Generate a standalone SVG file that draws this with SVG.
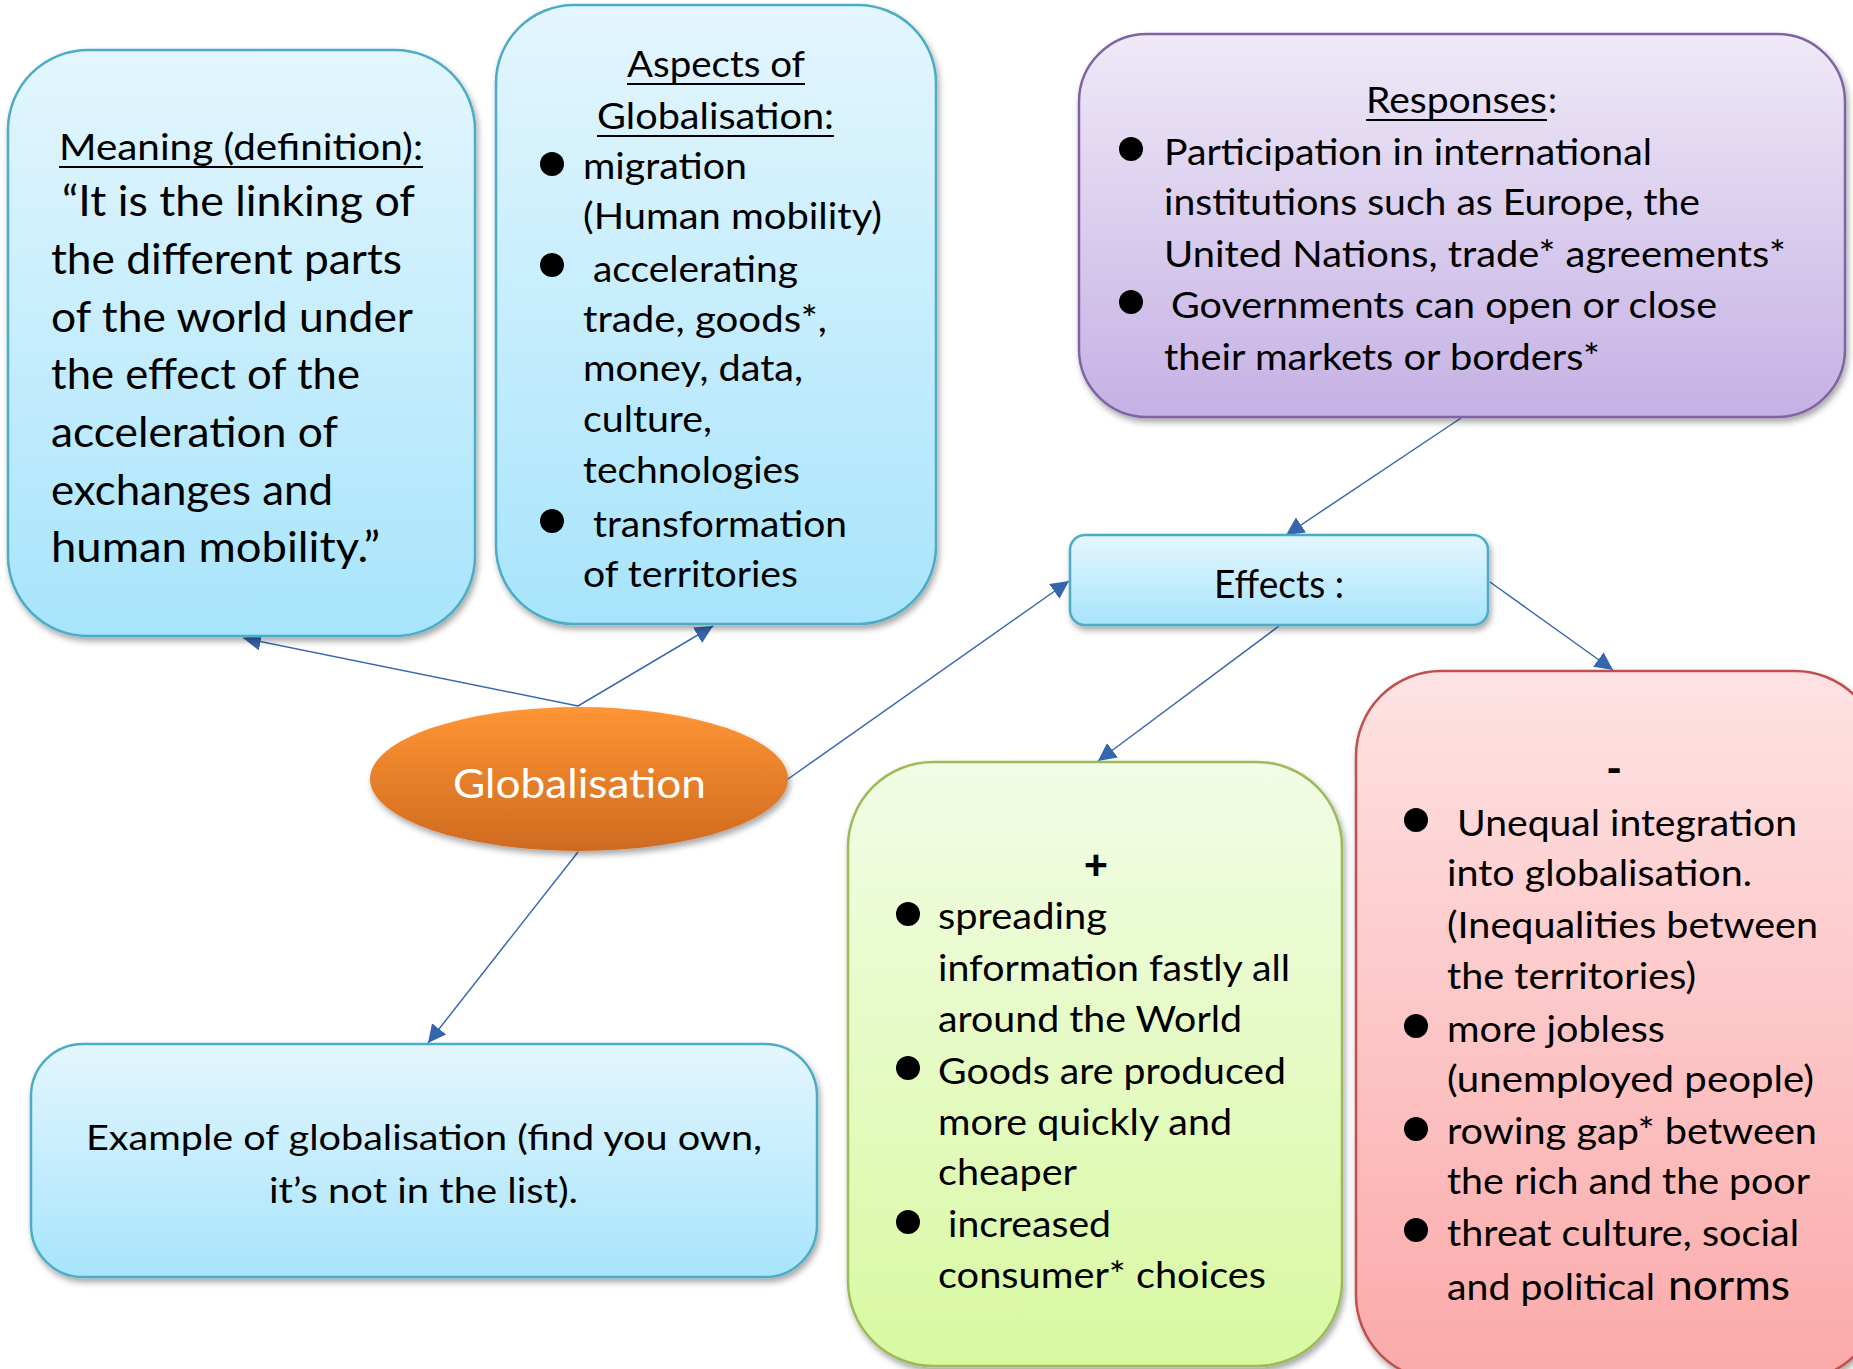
<svg xmlns="http://www.w3.org/2000/svg" width="1853" height="1369" viewBox="0 0 1853 1369">
<style>
  text { font-family: Lato, "Open Sans", "Liberation Sans", sans-serif; fill: #000; }
  .t43 { font-size: 43px; }
  .t37 { font-size: 37px; }
  .t36 { font-size: 36px; }
  .t35 { font-size: 35px; }
  .sign { font-size: 42px; font-weight: 900; }
  .conn { stroke: #3C68B0; stroke-width: 1.5; fill: none; marker-end: url(#arrow); }
  .ul { stroke: #000; stroke-width: 2.2; }
  .bul { fill: #000; }
</style>
<defs>
  <linearGradient id="gBlue" x1="0" y1="0" x2="0" y2="1">
    <stop offset="0" stop-color="#E4F6FE"/>
    <stop offset="1" stop-color="#A7E4FB"/>
  </linearGradient>
  <linearGradient id="gPurple" x1="0" y1="0" x2="0" y2="1">
    <stop offset="0" stop-color="#EFE9F7"/>
    <stop offset="1" stop-color="#C5B1E4"/>
  </linearGradient>
  <linearGradient id="gGreen" x1="0" y1="0" x2="0" y2="1">
    <stop offset="0" stop-color="#F2FCE6"/>
    <stop offset="1" stop-color="#D8F9A1"/>
  </linearGradient>
  <linearGradient id="gRed" x1="0" y1="0" x2="0" y2="1">
    <stop offset="0" stop-color="#FEE3E4"/>
    <stop offset="1" stop-color="#FBA9A9"/>
  </linearGradient>
  <linearGradient id="gOrange" x1="0" y1="0" x2="0" y2="1">
    <stop offset="0" stop-color="#FF9535"/>
    <stop offset="1" stop-color="#CF6A1F"/>
  </linearGradient>
  <filter id="shadow" x="-10%" y="-10%" width="120%" height="125%">
    <feDropShadow dx="2" dy="4" stdDeviation="3" flood-color="#000" flood-opacity="0.35"/>
  </filter>
  <marker id="arrow" markerUnits="userSpaceOnUse" markerWidth="20" markerHeight="18" refX="18" refY="9" orient="auto">
    <path d="M0,0 L18,9 L0,18 Z" fill="#3566AD"/>
  </marker>
</defs>

<g id="connectors">
  <line class="conn" x1="578" y1="706" x2="243" y2="638"/>
  <line class="conn" x1="578" y1="706" x2="713" y2="626"/>
  <line class="conn" x1="788" y1="779" x2="1069" y2="581"/>
  <line class="conn" x1="578" y1="852" x2="428" y2="1043"/>
  <line class="conn" x1="1461" y1="418" x2="1286" y2="535"/>
  <line class="conn" x1="1279" y1="626" x2="1098" y2="761"/>
  <line class="conn" x1="1490" y1="582" x2="1613" y2="670"/>
</g>

<g id="meaning">
  <rect x="8" y="50" width="467" height="586" rx="80" ry="80" fill="url(#gBlue)" stroke="#4BACC6" stroke-width="2.5" filter="url(#shadow)"/>
  <text class="t37" x="59" y="160" textLength="364" lengthAdjust="spacingAndGlyphs">Meaning (definition):</text>
  <line class="ul" x1="59" y1="167" x2="423" y2="167"/>
  <text class="t43" x="62" y="216" textLength="353" lengthAdjust="spacingAndGlyphs">“It is the linking of</text>
  <text class="t43" x="51" y="274" textLength="351" lengthAdjust="spacingAndGlyphs">the different parts</text>
  <text class="t43" x="51" y="332" textLength="362" lengthAdjust="spacingAndGlyphs">of the world under</text>
  <text class="t43" x="51" y="389" textLength="309" lengthAdjust="spacingAndGlyphs">the effect of the</text>
  <text class="t43" x="51" y="447" textLength="287" lengthAdjust="spacingAndGlyphs">acceleration of</text>
  <text class="t43" x="51" y="505" textLength="282" lengthAdjust="spacingAndGlyphs">exchanges and</text>
  <text class="t43" x="51" y="562" textLength="329" lengthAdjust="spacingAndGlyphs">human mobility.”</text>
</g>

<g id="aspects">
  <rect x="496" y="5" width="440" height="619" rx="78" ry="78" fill="url(#gBlue)" stroke="#4BACC6" stroke-width="2.5" filter="url(#shadow)"/>
  <text class="t37" x="627" y="77" textLength="178" lengthAdjust="spacingAndGlyphs">Aspects of</text>
  <line class="ul" x1="627" y1="84" x2="805" y2="84"/>
  <text class="t37" x="597" y="129" textLength="237" lengthAdjust="spacingAndGlyphs">Globalisation:</text>
  <line class="ul" x1="597" y1="136" x2="834" y2="136"/>
  <circle class="bul" cx="552" cy="164" r="12"/>
  <text class="t37" x="583" y="179" textLength="164" lengthAdjust="spacingAndGlyphs">migration</text>
  <text class="t37" x="583" y="229" textLength="299" lengthAdjust="spacingAndGlyphs">(Human mobility)</text>
  <circle class="bul" cx="552" cy="265" r="12"/>
  <text class="t37" x="593" y="282" textLength="205" lengthAdjust="spacingAndGlyphs">accelerating</text>
  <text class="t37" x="583" y="332" textLength="244" lengthAdjust="spacingAndGlyphs">trade, goods*,</text>
  <text class="t37" x="583" y="381" textLength="220" lengthAdjust="spacingAndGlyphs">money, data,</text>
  <text class="t37" x="583" y="432" textLength="129" lengthAdjust="spacingAndGlyphs">culture,</text>
  <text class="t37" x="583" y="483" textLength="217" lengthAdjust="spacingAndGlyphs">technologies</text>
  <circle class="bul" cx="552" cy="521" r="12"/>
  <text class="t37" x="593" y="537" textLength="254" lengthAdjust="spacingAndGlyphs">transformation</text>
  <text class="t37" x="583" y="587" textLength="215" lengthAdjust="spacingAndGlyphs">of territories</text>
</g>

<g id="responses">
  <rect x="1079" y="34" width="766" height="383" rx="68" ry="68" fill="url(#gPurple)" stroke="#8064A2" stroke-width="2.5" filter="url(#shadow)"/>
  <text class="t36" x="1366" y="113" textLength="181" lengthAdjust="spacingAndGlyphs">Responses</text>
  <text class="t36" x="1548" y="113">:</text>
  <line class="ul" x1="1366" y1="120" x2="1547" y2="120"/>
  <circle class="bul" cx="1131" cy="149" r="12"/>
  <text class="t36" x="1164" y="165" textLength="488" lengthAdjust="spacingAndGlyphs">Participation in international</text>
  <text class="t36" x="1164" y="215" textLength="536" lengthAdjust="spacingAndGlyphs">institutions such as Europe, the</text>
  <text class="t36" x="1164" y="267" textLength="622" lengthAdjust="spacingAndGlyphs">United Nations, trade* agreements*</text>
  <circle class="bul" cx="1131" cy="302" r="12"/>
  <text class="t36" x="1171" y="318" textLength="546" lengthAdjust="spacingAndGlyphs">Governments can open or close</text>
  <text class="t36" x="1164" y="370" textLength="436" lengthAdjust="spacingAndGlyphs">their markets or borders*</text>
</g>

<g id="effects">
  <rect x="1070" y="535" width="418" height="90" rx="15" ry="15" fill="url(#gBlue)" stroke="#4BACC6" stroke-width="2.5" filter="url(#shadow)"/>
  <text x="1214" y="598" font-size="38" textLength="130" lengthAdjust="spacingAndGlyphs">Effects :</text>
</g>

<g id="globalisation">
  <ellipse cx="579" cy="779" rx="209" ry="72" fill="url(#gOrange)" filter="url(#shadow)"/>
  <text x="453" y="798" font-size="41" style="fill:#fff" textLength="253" lengthAdjust="spacingAndGlyphs">Globalisation</text>
</g>

<g id="example">
  <rect x="31" y="1044" width="786" height="233" rx="52" ry="52" fill="url(#gBlue)" stroke="#4BACC6" stroke-width="2.5" filter="url(#shadow)"/>
  <text class="t35" x="86" y="1150" textLength="676" lengthAdjust="spacingAndGlyphs">Example of globalisation (find you own,</text>
  <text class="t35" x="269" y="1203" textLength="309" lengthAdjust="spacingAndGlyphs">it’s not in the list).</text>
</g>

<g id="positive">
  <rect x="848" y="762" width="494" height="604" rx="85" ry="85" fill="url(#gGreen)" stroke="#9BBB59" stroke-width="2.5" filter="url(#shadow)"/>
  <text class="sign" x="1096" y="879" text-anchor="middle">+</text>
  <circle class="bul" cx="908" cy="914" r="12"/>
  <text class="t37" x="938" y="929" textLength="169" lengthAdjust="spacingAndGlyphs">spreading</text>
  <text class="t37" x="938" y="981" textLength="352" lengthAdjust="spacingAndGlyphs">information fastly all</text>
  <text class="t37" x="938" y="1032" textLength="304" lengthAdjust="spacingAndGlyphs">around the World</text>
  <circle class="bul" cx="908" cy="1068" r="12"/>
  <text class="t37" x="938" y="1084" textLength="348" lengthAdjust="spacingAndGlyphs">Goods are produced</text>
  <text class="t37" x="938" y="1135" textLength="294" lengthAdjust="spacingAndGlyphs">more quickly and</text>
  <text class="t37" x="938" y="1185" textLength="139" lengthAdjust="spacingAndGlyphs">cheaper</text>
  <circle class="bul" cx="908" cy="1222" r="12"/>
  <text class="t37" x="948" y="1237" textLength="163" lengthAdjust="spacingAndGlyphs">increased</text>
  <text class="t37" x="938" y="1288" textLength="328" lengthAdjust="spacingAndGlyphs">consumer* choices</text>
</g>

<g id="negative">
  <rect x="1356" y="671" width="524" height="709" rx="85" ry="85" fill="url(#gRed)" stroke="#C0504D" stroke-width="2.5" filter="url(#shadow)"/>
  <text class="sign" x="1614" y="783" text-anchor="middle">-</text>
  <circle class="bul" cx="1416" cy="820" r="12"/>
  <text class="t37" x="1457" y="836" textLength="340" lengthAdjust="spacingAndGlyphs">Unequal integration</text>
  <text class="t37" x="1447" y="886" textLength="305" lengthAdjust="spacingAndGlyphs">into globalisation.</text>
  <text class="t37" x="1447" y="938" textLength="371" lengthAdjust="spacingAndGlyphs">(Inequalities between</text>
  <text class="t37" x="1447" y="989" textLength="249" lengthAdjust="spacingAndGlyphs">the territories)</text>
  <circle class="bul" cx="1416" cy="1026" r="12"/>
  <text class="t37" x="1447" y="1042" textLength="218" lengthAdjust="spacingAndGlyphs">more jobless</text>
  <text class="t37" x="1447" y="1092" textLength="367" lengthAdjust="spacingAndGlyphs">(unemployed people)</text>
  <circle class="bul" cx="1416" cy="1129" r="12"/>
  <text class="t37" x="1447" y="1144" textLength="370" lengthAdjust="spacingAndGlyphs">rowing gap* between</text>
  <text class="t37" x="1447" y="1194" textLength="363" lengthAdjust="spacingAndGlyphs">the rich and the poor</text>
  <circle class="bul" cx="1416" cy="1230" r="12"/>
  <text class="t37" x="1447" y="1246" textLength="352" lengthAdjust="spacingAndGlyphs">threat culture, social</text>
  <text class="t37" x="1447" y="1300" textLength="208" lengthAdjust="spacingAndGlyphs">and political</text>
  <text x="1668" y="1300" font-size="42" textLength="122" lengthAdjust="spacingAndGlyphs">norms</text>
</g>
</svg>
